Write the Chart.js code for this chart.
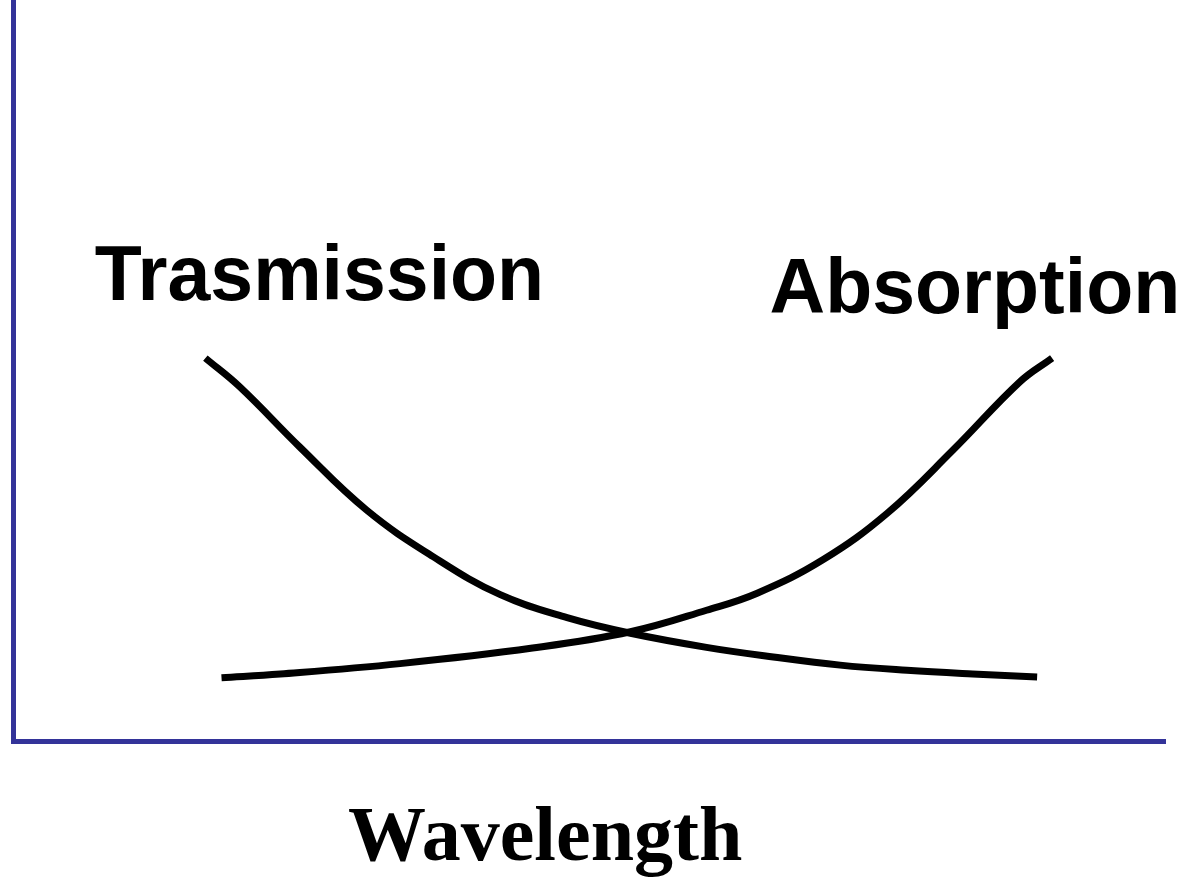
<!DOCTYPE html>
<html>
<head>
<meta charset="utf-8">
<title>Trasmission / Absorption</title>
<script src="https://cdn.jsdelivr.net/npm/chart.js@4/dist/chart.umd.min.js"></script>
<style>
  html, body { margin: 0; padding: 0; background: #fff; }
  canvas { display: block; }
</style>
</head>
<body>
<canvas id="chart" width="1187" height="878"></canvas>
<script>
// ========== DONNÉES ==========
// unités arbitraires : x = longueur d'onde (0-100), y = intensité (0-100)
const transX = [16.7, 19.7, 24.9, 30.7, 36.5, 42.3, 48.1, 53.6, 60.2, 66.0, 71.8, 77.6, 83.3, 88.9];
const transY = [51.7, 47.8, 39.7, 31.2, 24.9, 19.8, 16.7, 14.6, 12.7, 11.4, 10.3, 9.6, 9.1, 8.7];

const absX = [18.1, 23.2, 33.6, 45.1, 53.6, 60.2, 64.6, 70.3, 75.9, 81.6, 87.4, 90.2];
const absY = [8.6, 9.1, 10.5, 12.6, 14.8, 17.7, 20.0, 24.5, 30.8, 39.3, 48.5, 51.7];

// étiquettes (texte, position en unités du graphique)
const labelTexts = ["Trasmission", "Absorption", "Wavelength"];
const labelX = [26.6, 83.5, 46.2];
const labelY = [59.5, 57.8, -16.0];
const labelFonts = [
  "bold 77px 'Liberation Sans', Arial, sans-serif",
  "bold 77px 'Liberation Sans', Arial, sans-serif",
  "bold 78px 'Liberation Serif', 'Times New Roman', serif",
];

const AXIS_COLOR = "#333399";

function toPoints(xs, ys) {
  return xs.map((x, i) => ({ x, y: ys[i] }));
}

// ========== PLUGIN ÉTIQUETTES ==========
const textLabels = {
  id: "textLabels",
  afterDraw(chart) {
    const { ctx, scales } = chart;
    ctx.save();
    ctx.fillStyle = "#000";
    ctx.textAlign = "center";
    ctx.textBaseline = "alphabetic";
    labelTexts.forEach((txt, i) => {
      ctx.font = labelFonts[i];
      ctx.fillText(txt, scales.x.getPixelForValue(labelX[i]), scales.y.getPixelForValue(labelY[i]));
    });
    ctx.restore();
  },
};

// ========== GRAPHIQUE ==========
const lineStyle = {
  borderColor: "#000",
  borderWidth: 7,
  borderCapStyle: "butt",
  borderJoinStyle: "round",
  pointRadius: 0,
  tension: 0.4,
  fill: false,
};

const axisStyle = {
  type: "linear",
  min: 0,
  max: 100,
  grid: { display: false, drawTicks: false, tickLength: 0 },
  ticks: { display: false, padding: 0 },
  border: { display: true, color: AXIS_COLOR, width: 5 },
};

new Chart(document.getElementById("chart"), {
  type: "line",
  data: {
    datasets: [
      { label: "Trasmission", data: toPoints(transX, transY), ...lineStyle },
      { label: "Absorption", data: toPoints(absX, absY), ...lineStyle },
    ],
  },
  options: {
    responsive: false,
    animation: false,
    layout: { padding: { left: 13, right: 22, top: 0, bottom: 136.5 } },
    plugins: { legend: { display: false }, tooltip: { enabled: false } },
    scales: { x: { ...axisStyle }, y: { ...axisStyle } },
  },
  plugins: [textLabels],
});
</script>
</body>
</html>
